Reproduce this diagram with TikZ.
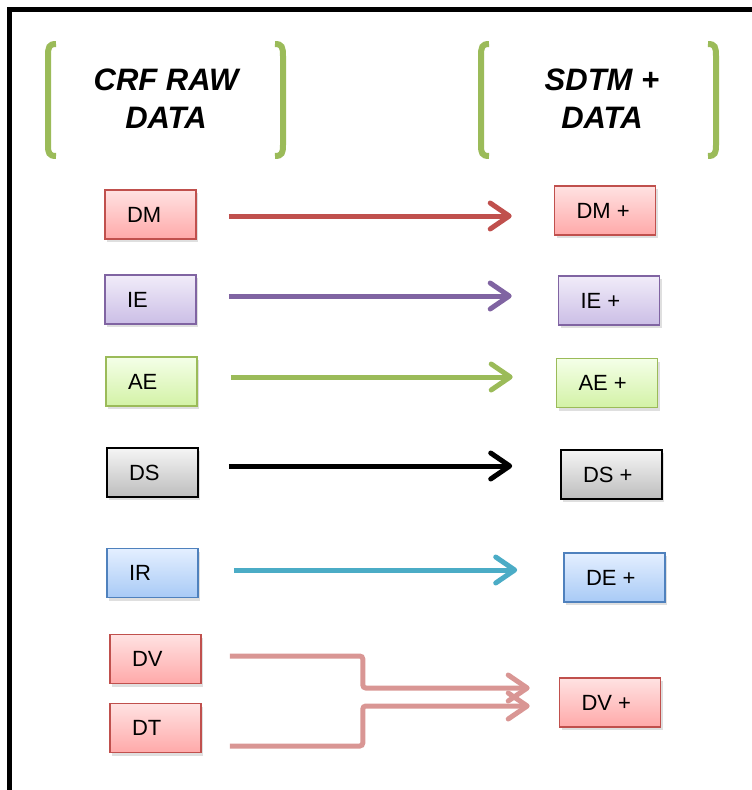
\documentclass[tikz,border=0pt]{standalone}
\usepackage{fontspec}
\setmainfont{Liberation Sans}
\usetikzlibrary{arrows.meta,shadows}
\definecolor{redB}{HTML}{C0504D}
\definecolor{redT}{HTML}{FFE2E2}
\definecolor{redL}{HTML}{FFA9A9}
\definecolor{purB}{HTML}{8064A2}
\definecolor{purT}{HTML}{F1ECF9}
\definecolor{purL}{HTML}{CBBEE6}
\definecolor{grnB}{HTML}{9BBB59}
\definecolor{grnT}{HTML}{F4FFE8}
\definecolor{grnL}{HTML}{D3F2A6}
\definecolor{gryT}{HTML}{F5F5F5}
\definecolor{gryL}{HTML}{BDBDBD}
\definecolor{bluB}{HTML}{4F81BD}
\definecolor{bluT}{HTML}{E4EFFF}
\definecolor{bluL}{HTML}{A8CAF6}
\definecolor{tealA}{HTML}{4BACC6}
\definecolor{pinkA}{HTML}{D99694}
\tikzset{
  boxbase/.style={draw, line width=1.6pt, minimum height=49pt, inner xsep=22pt,
    align=flush left, font=\fontsize{22}{26}\selectfont,
    drop shadow={opacity=0.25, shadow xshift=2pt, shadow yshift=-3pt}},
  lbox/.style={boxbase, text width=47pt},
  rbox/.style={boxbase, text width=57pt},
  redbox/.style={draw=redB, top color=redT, bottom color=redL},
  purbox/.style={draw=purB, top color=purT, bottom color=purL},
  grnbox/.style={draw=grnB, top color=grnT, bottom color=grnL},
  grybox/.style={draw=black, top color=gryT, bottom color=gryL},
  blubox/.style={draw=bluB, top color=bluT, bottom color=bluL},
  arr/.style={line width=5pt, -{Straight Barb[length=19pt,width=26pt,line join=round,line cap=round]}},
  bracket/.style={draw=grnB, line width=6pt},
  heading/.style={font=\fontsize{31}{38}\selectfont\bfseries\itshape, align=center}
}
\begin{document}
\begin{tikzpicture}[x=1pt,y=-1pt]
\useasboundingbox (0,0) rectangle (752,790);
\draw[line width=4.5pt] (9.5,9.5) rectangle (780,820);
% brackets
\foreach \l/\r in {48/283, 481/716}{
  \draw[bracket] (\l+8,44) .. controls (\l+1,44) and (\l,47) .. (\l,56) -- (\l,145) .. controls (\l,153) and (\l+1,156) .. (\l+8,156);
  \draw[bracket] (\r-8,44) .. controls (\r-1,44) and (\r,47) .. (\r,56) -- (\r,145) .. controls (\r,153) and (\r-1,156) .. (\r-8,156);
}
\node[heading] (hl) at (166,99) {CRF RAW\\DATA};
\node[heading] (hr) at (602,99) {SDTM +\\DATA};
% left boxes
\node[lbox, redbox] (DM) at (150.5,214.5) {DM};
\node[lbox, purbox] (IE) at (150.5,299.5) {IE};
\node[lbox, grnbox] (AE) at (151.5,381.5) {AE};
\node[lbox, grybox] (DS) at (152.5,472.5) {DS};
\node[lbox, blubox] (IR) at (152.5,573) {IR};
\node[lbox, redbox] (DV) at (155.5,659) {DV};
\node[lbox, redbox] (DT) at (155.5,728) {DT};
% right boxes
\node[rbox, redbox] (DMp) at (605,210.5) {DM +};
\node[rbox, purbox] (IEp) at (609,300.5) {IE +};
\node[rbox, grnbox] (AEp) at (607,383) {AE +};
\node[rbox, grybox] (DSp) at (611.5,474.5) {DS +};
\node[rbox, blubox] (DEp) at (614.5,577.5) {DE +};
\node[rbox, redbox] (DVp) at (610,702.5) {DV +};
% arrows
\draw[arr, redB] ([xshift=32pt,yshift=-1.5pt]DM.east) -- ([xshift=-42pt,yshift=-1.5pt]DM.east -| DMp.west);
\draw[arr, purB] ([xshift=32pt,yshift=3.5pt]IE.east) -- ([xshift=-46pt,yshift=3.5pt]IE.east -| IEp.west);
\draw[arr, grnB] ([xshift=33pt,yshift=4.5pt]AE.east) -- ([xshift=-43pt,yshift=4.5pt]AE.east -| AEp.west);
\draw[arr, black] ([xshift=30pt,yshift=6.5pt]DS.east) -- ([xshift=-48pt,yshift=6.5pt]DS.east -| DSp.west);
\draw[arr, tealA] ([xshift=35pt,yshift=3pt]IR.east) -- ([xshift=-46pt,yshift=3pt]IR.east -| DEp.west);
\draw[arr, pinkA, rounded corners=3pt] ([xshift=28pt,yshift=3pt]DV.east) -- ++(133,0) |- ([xshift=-29pt,yshift=14.5pt]DVp.west);
\draw[arr, pinkA, rounded corners=3pt] ([xshift=28pt,yshift=-18pt]DT.east) -- ++(133,0) |- ([xshift=-29pt,yshift=-3.5pt]DVp.west);
\end{tikzpicture}
\end{document}
